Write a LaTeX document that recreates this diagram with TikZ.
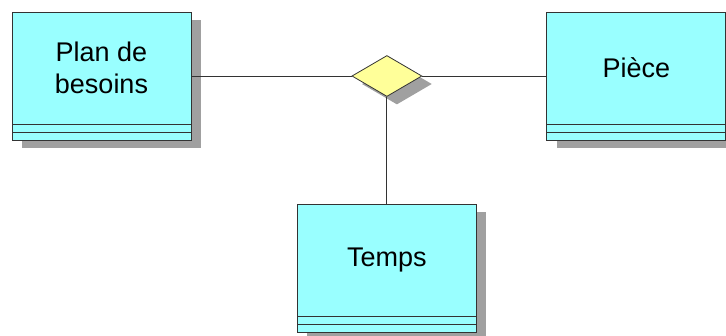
\documentclass[tikz,border=0pt]{standalone}
\usepackage{fontspec}
\setsansfont{Liberation Sans}
\usetikzlibrary{shapes.geometric,shadows,positioning}
\definecolor{entcyan}{HTML}{99FFFF}
\definecolor{relyellow}{HTML}{FFFF99}
\definecolor{shadowgray}{HTML}{A0A0A0}
\definecolor{edgegray}{HTML}{333333}

\begin{document}
\begin{tikzpicture}[x=1pt,y=-1pt,
  font=\sffamily\fontsize{27}{32}\selectfont,
  ent/.style={rectangle,draw=edgegray,fill=entcyan,line width=1pt,minimum width=179pt,minimum height=128pt,inner sep=0pt,
    general shadow={fill=shadowgray,shadow xshift=10pt,shadow yshift=-8pt},
    path picture={
      \draw[edgegray] ([yshift=16pt]path picture bounding box.south west) -- ([yshift=16pt]path picture bounding box.south east);
      \draw[edgegray] ([yshift=8pt]path picture bounding box.south west) -- ([yshift=8pt]path picture bounding box.south east);}},
  ename/.style={align=center,inner sep=0pt},
  rel/.style={diamond,draw=edgegray,fill=relyellow,line width=0.8pt,minimum width=70pt,minimum height=41pt,inner sep=0pt,
    general shadow={fill=shadowgray,shadow xshift=10pt,shadow yshift=-8pt}},
  link/.style={draw=edgegray,line width=1pt}
]
\clip (0,0) rectangle (726,335);
\node[ent] (plan) at (101.5,76) {};
\node[rel,right=160pt of plan] (rel) {};
\node[ent,right=124pt of rel] (piece) {};
\node[ent,below=107pt of rel] (temps) {};
\node[ename] (plantxt) at ([yshift=8pt]plan.center) {Plan de\\besoins};
\node[ename] (piecetxt) at ([yshift=8pt]piece.center) {Pièce};
\node[ename] (tempstxt) at ([yshift=8pt]temps.center) {Temps};
\draw[link] (plan) -- (rel);
\draw[link] (rel) -- (piece);
\draw[link] (rel) -- (temps);
\end{tikzpicture}
\end{document}
